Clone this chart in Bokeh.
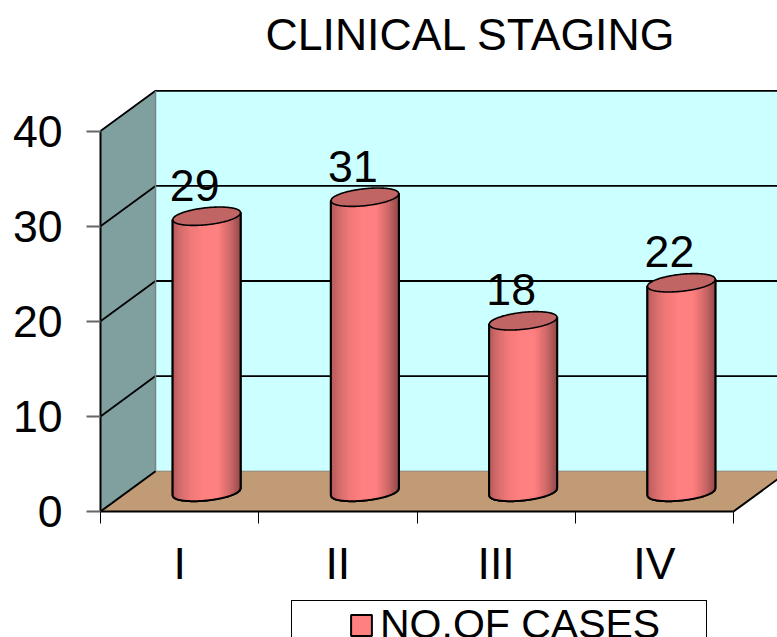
import numpy as np
from bokeh.core.properties import value as fixed
from bokeh.embed import file_html
from bokeh.models import FixedTicker, Legend, LegendItem, LinearAxis, Range1d
from bokeh.plotting import figure
from bokeh.resources import INLINE

categories = ["I", "II", "III", "IV"]
cases = [29, 31, 18, 22]
value_ticks = [0, 10, 20, 30, 40]
title_text = "CLINICAL STAGING"
series_name = "NO.OF CASES"

WIDTH, HEIGHT = 777, 637
ORIGIN_X, ORIGIN_Y = 100, 511   # pixel position of (0, 0)
PX_X = 158.25          # pixels per category
PX_Y = 9.51            # pixels per value unit
DX = 55 / PX_X         # depth of the box, along x
DY = 40.3 / PX_Y       # depth of the box, along y
XMIN = -ORIGIN_X / PX_X
XMAX = (WIDTH - ORIGIN_X) / PX_X
YMIN = -(HEIGHT - ORIGIN_Y) / PX_Y
YMAX = ORIGIN_Y / PX_Y

FONT = "Liberation Sans"
SIZE = "44.6px"
LEGEND_SIZE = "41px"

p = figure(
    width=WIDTH, height=HEIGHT, output_backend="svg", toolbar_location=None,
    x_range=Range1d(XMIN, XMAX), y_range=Range1d(YMIN, YMAX),
    min_border_left=0, min_border_right=0, min_border_top=0,
    min_border_bottom=0, outline_line_color=None,
    x_axis_location=None, y_axis_location=None, title_location=None,
)
p.grid.visible = False

n_cat = len(categories)
top_v = value_ticks[-1]

# Box walls and floor
p.patch([0, 0, DX, DX], [0, top_v, top_v + DY, DY],
        fill_color="#80A0A0", fill_alpha=1, line_color="#80A0A0", line_alpha=1)
p.quad(left=DX, right=XMAX, bottom=DY, top=top_v + DY,
       fill_color="#CCFFFF", fill_alpha=1, line_color=None)
p.patch([0, DX, n_cat + DX, n_cat], [0, DY, DY, 0],
        fill_color="#C19B75", fill_alpha=1, line_color=None)

# Gridlines running across the side wall and the back wall
for v in value_ticks[1:]:
    p.line([0, DX, XMAX], [v, v + DY, v + DY], line_color="black", line_width=1.8)
p.line([DX, DX], [DY, top_v + DY], line_color="#708888", line_width=1.5)
p.line([DX, XMAX], [DY, DY], line_color="#908070", line_width=1)
p.line([0, DX], [0, DY], line_color="black", line_width=2)
p.line([n_cat, n_cat + DX], [0, DY], line_color="black", line_width=2)

# Cylinder geometry
HALF_W = 34 / PX_X
TILT = 3.5 / PX_Y
CAP = 8.5 / PX_Y
BASE = 2.05
SHIFT = 27 / PX_X
shade_u = [-1.0, -0.8, -0.45, -0.1, 0.35, 0.7, 1.0]
shade_rgb = np.array([
    [176, 88, 88], [205, 105, 105], [240, 122, 122], [255, 128, 128],
    [255, 128, 128], [205, 104, 104], [142, 72, 72],
])

u = np.linspace(-1, 1, 81)
arc = np.sqrt(1 - u ** 2)
centers = [i + 0.5 + SHIFT for i in range(n_cat)]

# Flat-coloured bodies; they also supply the legend swatch
body_xs, body_ys = [], []
for cx, v in zip(centers, cases):
    xs = cx + u * HALF_W
    body_xs.append(np.concatenate([xs, [xs[-1], xs[0]]]))
    body_ys.append(np.concatenate([BASE + TILT * u - CAP * arc, [BASE + v + TILT, BASE + v - TILT]]))
bodies = p.patches(body_xs, body_ys, fill_color="#FF8080", fill_alpha=1,
                   line_color="black", line_width=2)

# Side shading and the top caps
for cx, v in zip(centers, cases):
    edges = np.linspace(-1, 1, 69)
    mids = (edges[:-1] + edges[1:]) / 2
    m_arc = np.sqrt(1 - mids ** 2)
    colors = ["#%02x%02x%02x" % tuple(
        int(round(np.interp(m, shade_u, shade_rgb[:, c]))) for c in range(3)) for m in mids]
    p.quad(left=cx + edges[:-1] * HALF_W, right=cx + edges[1:] * HALF_W,
           bottom=BASE + TILT * mids - CAP * m_arc,
           top=BASE + v + TILT * mids,
           fill_color=colors, fill_alpha=1, line_color=colors, line_alpha=1, line_width=0.5)

    xs = cx + u * HALF_W
    outline_x = np.concatenate([xs, [xs[-1]], [xs[0]], [xs[0]]])
    outline_y = np.concatenate([BASE + TILT * u - CAP * arc,
                                [BASE + v + TILT], [BASE + v - TILT], [BASE - TILT]])
    p.line(outline_x, outline_y, line_color="black", line_width=2)
    p.patch(np.concatenate([xs, xs[::-1]]),
            np.concatenate([BASE + v + TILT * u - CAP * arc, (BASE + v + TILT * u + CAP * arc)[::-1]]),
            fill_color="#C06464", fill_alpha=1, line_color="black", line_width=1.6)

# Value labels above the caps
p.text(x=[c - 12 / PX_X for c in centers],
       y=[BASE + v for v in cases], text=[str(v) for v in cases],
       text_font=fixed(FONT), text_font_size=SIZE, text_color="black",
       text_align="center", text_baseline="middle", y_offset=-31)

# Chart heading, placed from the top-left corner of the page
p.text(x=[XMIN], y=[YMAX], text=[title_text],
       text_font=fixed(FONT), text_font_size=SIZE, text_color="black",
       text_align="left", text_baseline="middle", x_offset=265, y_offset=33.5)

# Axes pinned to the front corner of the box
ya = LinearAxis(fixed_location=0, ticker=FixedTicker(ticks=value_ticks), bounds=(0, top_v))
ya.axis_line_color = "black"
ya.axis_line_width = 2
ya.major_tick_in = 0
ya.major_tick_out = 14
ya.major_tick_line_color = "#666666"
ya.major_tick_line_width = 2
ya.minor_tick_line_color = None
ya.major_label_standoff = 24
ya.major_label_text_font = FONT
ya.major_label_text_font_size = SIZE
ya.major_label_text_color = "black"
p.add_layout(ya, "left")

xa = LinearAxis(fixed_location=0,
                ticker=FixedTicker(ticks=[i + 0.5 for i in range(n_cat)],
                                   minor_ticks=list(range(n_cat + 1))),
                bounds=(0, n_cat))
xa.major_label_overrides = {i + 0.5: c for i, c in enumerate(categories)}
xa.axis_line_color = "black"
xa.axis_line_width = 2
xa.major_tick_line_color = None
xa.major_tick_in = 0
xa.major_tick_out = 0
xa.minor_tick_in = 0
xa.minor_tick_out = 12
xa.minor_tick_line_color = "black"
xa.minor_tick_line_width = 1
xa.major_label_standoff = 15
xa.major_label_text_font = FONT
xa.major_label_text_font_size = SIZE
xa.major_label_text_color = "black"
p.add_layout(xa, "below")

# Legend at the foot of the chart
legend = Legend(items=[LegendItem(label=series_name, renderers=[bodies])],
                location=(291, -12), orientation="horizontal",
                padding=dict(left=56, right=46, top=0, bottom=0), margin=0, spacing=0,
                glyph_width=26, glyph_height=26, label_standoff=6,
                label_text_font=FONT, label_text_font_size=LEGEND_SIZE, label_text_color="black",
                border_line_color="black", border_line_width=1.5, border_line_alpha=1,
                background_fill_color="white", background_fill_alpha=1)
p.add_layout(legend, "center")

open("out.html", "w").write(file_html(p, INLINE))
